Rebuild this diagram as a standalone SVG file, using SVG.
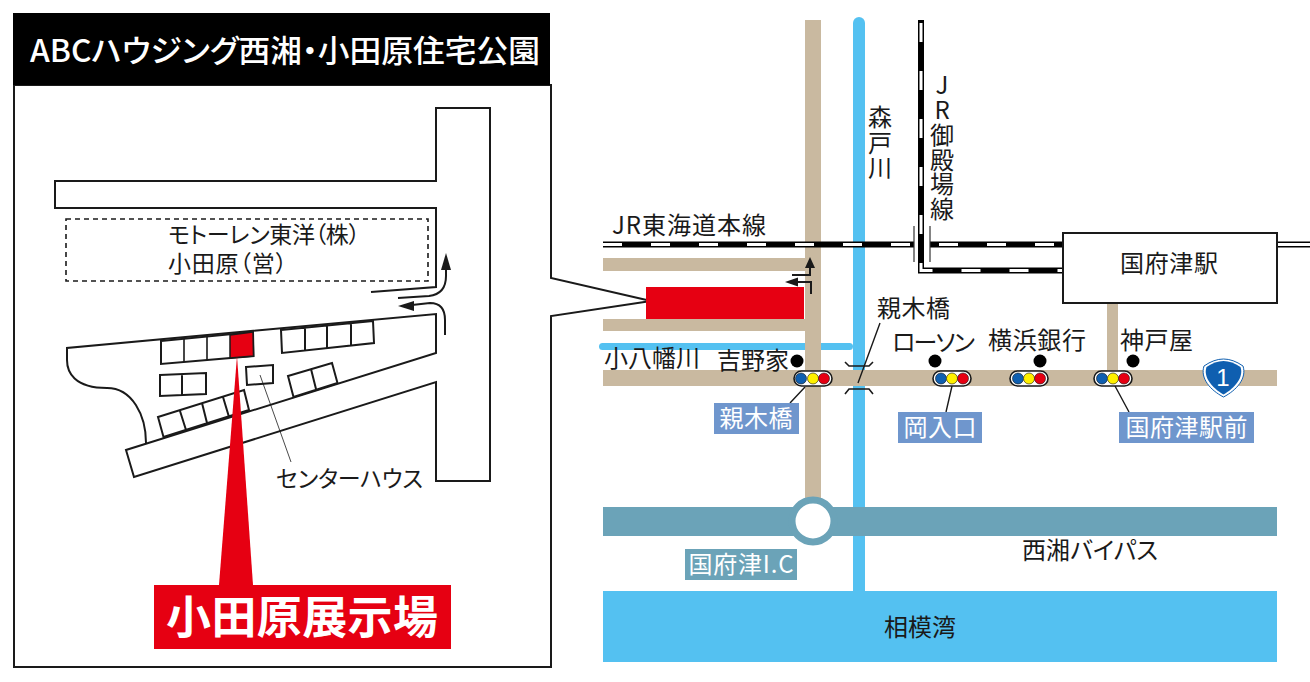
<svg xmlns="http://www.w3.org/2000/svg" width="1310" height="682" viewBox="0 0 1310 682">
<style>
text{font-family:"Noto Sans CJK JP","Noto Sans",sans-serif;fill:#1a1a1a;font-size:24px;font-feature-settings:"palt"}
.m{text-anchor:middle}
.w{fill:#fff}
.v{writing-mode:vertical-rl;text-orientation:upright;font-feature-settings:normal}
.o{fill:none;stroke:#1a1a1a;stroke-width:2}
.c{fill:#fff;stroke:#1a1a1a;stroke-width:2}
.t{fill:none;stroke:#1a1a1a;stroke-width:1.6}
.road{fill:#c9b9a0}
.riv{fill:#54c1f1}
.byp{fill:#6ba3b8}
.lab{fill:#6f96cd}
.rb{fill:none;stroke:#000;stroke-width:6}
.rw{fill:none;stroke:#fff;stroke-width:3;stroke-dasharray:19 29}
.sig{fill:#fff;stroke:#1a1a1a;stroke-width:1.6}
.b{fill:#0f5fb0;stroke:#1a1a1a;stroke-width:.6}
.y{fill:#fff000;stroke:#1a1a1a;stroke-width:.6}
.r{fill:#e60012;stroke:#1a1a1a;stroke-width:.6}
.ah{fill:#1a1a1a}
</style>
<rect width="1310" height="682" fill="#fff"/>

<g id="panel">
<path class="c" d="M14 85V667H551V316L651 301L551 278V85Z"/>
<rect x="13" y="13" width="537" height="72" fill="#000"/>
<text class="w" x="30" y="62" style="font-size:31px;font-weight:500" textLength="510" lengthAdjust="spacingAndGlyphs">ABCハウジング西湘・小田原住宅公園</text>
</g>

<g id="site-roads">
<path class="o" d="M371 292L436 287V208H55V181H436V108H490V481H436V382L134 477L126 450L436 353V314L67 348V360C67 372 74 388 107 388C132 388 146 415 146 443"/>
<rect x="66" y="219" width="362" height="62" fill="none" stroke="#1a1a1a" stroke-width="1.6" stroke-dasharray="5 4"/>
<text x="168" y="243" style="font-size:23px" textLength="192">モトーレン東洋（株）</text>
<text x="168" y="272" style="font-size:23px" textLength="119">小田原（営）</text>
</g>

<g id="site-parking">
<path class="c" d="M161 341L253 332L253.500 356L161 364Z"/>
<path class="t" d="M184 339V362M207 337V360"/>
<path class="c" d="M160 375L206 373V394L160 396ZM182 374V395"/>
<path class="c" d="M281 330L373 321L374 343L282 353ZM305 328V350M327 326V348M351 323V345"/>
<path class="c" d="M288 376L332 363L337.500 383L293.500 397ZM311 369L316 389"/>
<path class="c" d="M158 417L244 390L249 410L163.500 437ZM180 411L186 430M202 403L207 423M223 397L229 417"/>
<path class="c" d="M246 367L273 365V383L247 385Z"/>
<path d="M230 335L253 332L253.500 356L230 358Z" fill="#e60012" stroke="#1a1a1a" stroke-width="1.500"/>
<path d="M260 375L291 462" fill="none" stroke="#1a1a1a" stroke-width=".8"/>
<text x="276" y="487" style="font-size:23px" textLength="147">センターハウス</text>
</g>

<g id="site-arrows">
<path class="o" d="M398 298L429 296Q446 294 446 276V268"/>
<path class="ah" d="M446 253L451 270H441Z"/>
<path class="o" d="M445 335V320Q445 303 430 303L412 305"/>
<path class="ah" d="M398 306L414 301V311Z"/>
</g>

<g id="showroom-pointer">
<path d="M237 356L253 585H219Z" fill="#e60012"/>
<rect x="154" y="585" width="297" height="64" fill="#e60012"/>
<text class="w m" x="302" y="634" style="font-size:45px;font-weight:700" textLength="272">小田原展示場</text>
</g>

<g id="water-and-roads">
<rect class="riv" x="603" y="591" width="674" height="71"/>
<path class="riv" d="M853 23a6 6 0 0 1 12 0V592H853Z"/>
<rect class="riv" x="599" y="343" width="254" height="7" rx="3.500"/>
<rect class="road" x="805" y="20" width="16" height="500"/>
<rect class="road" x="603" y="258" width="202" height="13"/>
<rect class="road" x="603" y="319" width="202" height="12"/>
<rect class="road" x="1107" y="300" width="11" height="72"/>
<rect class="road" x="603" y="370" width="674" height="16"/>
<rect class="byp" x="603" y="507" width="674" height="29"/>
<circle cx="813" cy="521" r="21" fill="#fff" stroke="#6ba3b8" stroke-width="7"/>
<rect x="646" y="287" width="158" height="32" fill="#e60012"/>
</g>

<g id="connectors">
<path class="rb" d="M603 244.500H914"/>
<path class="rw" d="M603 244.500H914"/>
<path class="rb" d="M921 20V270.500H1063"/>
<path class="rw" d="M921 23V270.500H1063"/>
<path class="rb" d="M930 244.500H1063"/>
<path class="rw" d="M939 244.500H1063"/>
<path class="rb" d="M1277 244.500H1310"/>
<path class="rw" d="M1277 244.500H1310" style="stroke-dasharray:none"/>
<path d="M914 226V262M930 226V262" fill="none" stroke="#333" stroke-width="1.200"/>
<path class="o" d="M792 275H810V266"/>
<path class="ah" d="M810 257L815 268H805Z"/>
<path class="o" d="M811 294V282H796"/>
<path class="ah" d="M785 282L798 277.500V286.500Z"/>
<path d="M845 362L849 366H869L873 362M845 394L849 389H869L873 394" fill="none" stroke="#1a1a1a" stroke-width="1.600"/>
<path d="M880 323L858 383M805 387L790 403M952 386L946 412M1115 386L1129 412" fill="none" stroke="#1a1a1a" stroke-width="1.400"/>
</g>

<g id="labels">
<text x="612" y="234" textLength="154">JR東海道本線</text>
<text class="v" x="880" y="105" style="letter-spacing:1.500px">森戸川</text>
<text class="v" x="942" y="73" style="letter-spacing:.8px">JR御殿場線</text>
<text x="604" y="367" textLength="96">小八幡川</text>
<text x="717" y="369" textLength="72">吉野家</text>
<text x="877" y="317" textLength="73">親木橋</text>
<text x="892" y="351" textLength="83">ローソン</text>
<text x="988" y="349" textLength="98">横浜銀行</text>
<text x="1120" y="349" textLength="73">神戸屋</text>
<text x="1022" y="559" textLength="136">西湘バイパス</text>
<text class="m" x="920" y="636" textLength="72">相模湾</text>
</g>

<g id="station-kozu">
<rect class="c" x="1063" y="233" width="214" height="70"/>
<text class="m" x="1169" y="272" textLength="98">国府津駅</text>
</g>

<g id="signal-oyagi">
<rect class="sig" x="794" y="371" width="38" height="15" rx="7.500"/>
<circle class="b" cx="801" cy="378.500" r="5.500"/><circle class="y" cx="813" cy="378.500" r="5.500"/><circle class="r" cx="824" cy="378.500" r="5.500"/>
</g>
<g id="signal-okairiguchi">
<rect class="sig" x="933" y="371" width="38" height="15" rx="7.500"/>
<circle class="b" cx="941" cy="378.500" r="5.500"/><circle class="y" cx="952" cy="378.500" r="5.500"/><circle class="r" cx="963" cy="378.500" r="5.500"/>
</g>
<g id="signal-yokohama">
<rect class="sig" x="1010" y="371" width="38" height="15" rx="7.500"/>
<circle class="b" cx="1018" cy="378.500" r="5.500"/><circle class="y" cx="1029" cy="378.500" r="5.500"/><circle class="r" cx="1040" cy="378.500" r="5.500"/>
</g>
<g id="signal-ekimae">
<rect class="sig" x="1094" y="371" width="38" height="15" rx="7.500"/>
<circle class="b" cx="1102" cy="378.500" r="5.500"/><circle class="y" cx="1113" cy="378.500" r="5.500"/><circle class="r" cx="1124" cy="378.500" r="5.500"/>
</g>

<g id="landmarks">
<circle cx="797" cy="361" r="6.500" fill="#000"/>
<circle cx="935" cy="361" r="6.500" fill="#000"/>
<circle cx="1040" cy="361" r="6.500" fill="#000"/>
<circle cx="1133" cy="361" r="6.500" fill="#000"/>
</g>

<g id="label-oyagi"><rect class="lab" x="714" y="403" width="85" height="31"/><text class="w m" x="756" y="427" textLength="73">親木橋</text></g>
<g id="label-okairiguchi"><rect class="lab" x="898" y="412" width="84" height="31"/><text class="w m" x="940" y="436" textLength="73">岡入口</text></g>
<g id="label-ekimae"><rect class="lab" x="1119" y="412" width="135" height="31"/><text class="w m" x="1186.500" y="436" textLength="122">国府津駅前</text></g>
<g id="label-ic"><rect class="byp" x="685" y="549" width="112" height="31"/><text class="w m" x="741" y="573" textLength="105">国府津I.C</text></g>

<g id="route-1">
<path d="M1204 366Q1214 359 1223.500 359Q1233 359 1243 366C1247 378 1237 390 1223.500 397C1210 390 1200 378 1204 366Z" fill="#fff" stroke="#0f5fb0" stroke-width="1"/>
<path d="M1206.500 367Q1215 361 1223.500 361Q1232 361 1240.500 367C1244 377 1235 388 1223.500 394.500C1212 388 1203 377 1206.500 367Z" fill="#0f5fb0"/>
<text class="w m" x="1223" y="386" style="font-size:24px;font-family:'Liberation Sans',sans-serif">1</text>
</g>
</svg>
